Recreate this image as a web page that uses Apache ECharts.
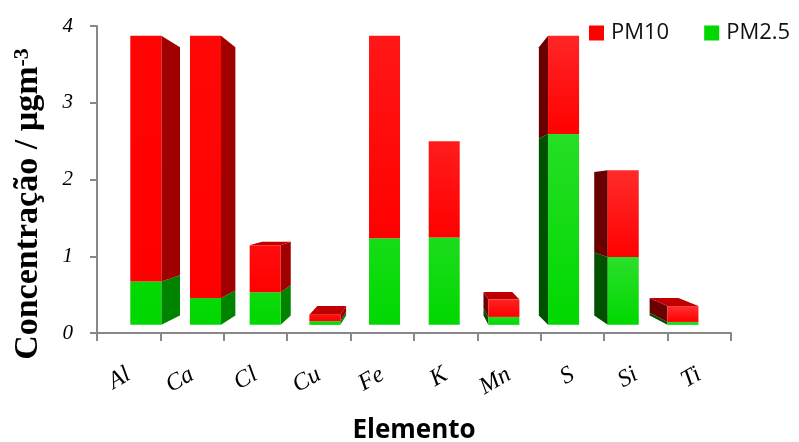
<!DOCTYPE html>
<html>
<head>
<meta charset="utf-8">
<script src="https://cdn.jsdelivr.net/npm/echarts@6/dist/echarts.min.js"></script>
<style>
  html, body { margin: 0; padding: 0; background: #ffffff; }
  #chart { width: 799px; height: 442px; }
</style>
</head>
<body>
<div id="chart"></div>
<script>
// Element categories
const elements = ['Al', 'Ca', 'Cl', 'Cu', 'Fe', 'K', 'Mn', 'S', 'Si', 'Ti'];
// Concentrations (µg m-3); PM10 values at the axis maximum are drawn at 4
const pm25 = [0.60, 0.37, 0.45, 0.05, 1.20, 1.21, 0.11, 2.64, 0.94, 0.04];
const pm10 = [4.00, 4.00, 1.10, 0.14, 4.00, 2.54, 0.35, 4.00, 2.14, 0.26];
// Y axis ticks
const yTicks = [0, 1, 2, 3, 4];

// Perspective settings for the pseudo-3D columns
const BAR_FRAC = 0.52;   // column width as share of a category band
const S_FRONT = 0.9413;  // front face scale toward the vanishing point
const S_BACK = 0.8735;   // back face scale toward the vanishing point
const VP_FX = 0.51;      // vanishing point, fraction of grid width
const VP_FY = 0.547;     // vanishing point, fraction of grid height
const MIN_FACE = 2;      // side faces narrower than this (px) are skipped

function mix(hex, t) {
  const n = parseInt(hex.slice(1), 16);
  const r = (n >> 16) & 255, g = (n >> 8) & 255, b = n & 255;
  const f = c => Math.round(c + (255 - c) * t);
  return 'rgb(' + f(r) + ',' + f(g) + ',' + f(b) + ')';
}

// Each item: [category index, segment start, segment end, stack top]
function columnRenderer(pal) {
  return function (params, api) {
    const cs = params.coordSys;
    const idx = api.value(0);
    const lo = api.value(1);
    const hi = api.value(2);
    const stackTop = api.value(3);
    if (!(hi > lo)) return;
    const band = api.size([1, 0])[0];
    const half = band * BAR_FRAC / 2;
    const cx = api.coord([idx, 0])[0];
    const yLo = api.coord([idx, lo])[1];
    const yHi = api.coord([idx, hi])[1];
    const vx = cs.x + cs.width * VP_FX;
    const vy = cs.y + cs.height * VP_FY;
    const P = (x, y, s) => [vx + s * (x - vx), vy + s * (y - vy)];
    const xl = cx - half, xr = cx + half;
    const fTL = P(xl, yHi, S_FRONT), fTR = P(xr, yHi, S_FRONT);
    const fBL = P(xl, yLo, S_FRONT), fBR = P(xr, yLo, S_FRONT);
    const bTL = P(xl, yHi, S_BACK), bTR = P(xr, yHi, S_BACK);
    const bBL = P(xl, yLo, S_BACK), bBR = P(xr, yLo, S_BACK);
    const children = [];
    if (bTR[0] > fTR[0] + MIN_FACE) {
      children.push({ type: 'polygon', shape: { points: [fTR, bTR, bBR, fBR] },
        style: { fill: pal.sideR } });
    } else if (bTL[0] < fTL[0] - MIN_FACE) {
      children.push({ type: 'polygon', shape: { points: [fTL, bTL, bBL, fBL] },
        style: { fill: pal.sideL } });
    }
    if (hi >= stackTop && bTL[1] < fTL[1] - 0.5) {
      children.push({ type: 'polygon', shape: { points: [fTL, fTR, bTR, bTL] },
        style: { fill: pal.top } });
    }
    const light = Math.max(0, Math.min(1, (cx - cs.x) / cs.width)) * 0.2;
    children.push({ type: 'polygon', shape: { points: [fTL, fTR, fBR, fBL] },
      style: { fill: { type: 'linear', x: 0, y: 0, x2: 0, y2: 1,
        colorStops: [{ offset: 0, color: mix(pal.front, light) },
                     { offset: 1, color: pal.front }] } } });
    return { type: 'group', children: children };
  };
}

const greenPal = { front: '#00d800', sideR: '#008400', sideL: '#005200', top: '#00a800' };
const redPal = { front: '#ff0000', sideR: '#a00000', sideL: '#6a0000', top: '#c00000' };

const greenData = elements.map((e, i) => [i, 0, pm25[i], Math.max(pm25[i], pm10[i])]);
const redData = elements.map((e, i) => [i, pm25[i], pm10[i], Math.max(pm25[i], pm10[i])]);

const chart = echarts.init(document.getElementById('chart'), null, { renderer: 'canvas' });
chart.setOption({
  animation: false,
  backgroundColor: '#ffffff',
  grid: { left: 97, right: 68, top: 26, bottom: 109, outerBoundsMode: 'none', containLabel: false },
  legend: {
    data: ['PM10', 'PM2.5'],
    left: 589, top: 22, padding: 0,
    icon: 'rect', itemWidth: 15, itemHeight: 15, itemGap: 35,
    textStyle: { fontFamily: 'Open Sans', fontSize: 22, color: '#111', padding: [0, 0, 0, 2] }
  },
  xAxis: {
    type: 'category',
    data: elements,
    name: 'Elemento',
    nameLocation: 'middle',
    nameGap: 85,
    nameTextStyle: { fontFamily: 'Open Sans', fontWeight: 'bold', fontSize: 26, color: '#000' },
    axisLine: { lineStyle: { color: '#888888', width: 2 } },
    axisTick: { show: true, length: 8, lineStyle: { color: '#888888', width: 2 } },
    axisLabel: { interval: 0, rotate: 30, margin: 40,
      fontFamily: 'Liberation Serif', fontStyle: 'italic', fontSize: 24, color: '#000' },
    splitLine: { show: false }
  },
  yAxis: {
    type: 'value',
    min: yTicks[0], max: yTicks[yTicks.length - 1], interval: 1,
    axisLine: { show: true, lineStyle: { color: '#888888', width: 2 } },
    axisTick: { show: true, length: 7, lineStyle: { color: '#888888', width: 2 } },
    axisLabel: { margin: 24, fontFamily: 'Liberation Serif', fontStyle: 'italic', fontSize: 21, color: '#000' },
    splitLine: { show: false }
  },
  graphic: [{
    type: 'text',
    x: 28, y: 204,
    rotation: Math.PI / 2,
    style: {
      text: '{a|Concentração / µgm}{s|-3}',
      align: 'center', verticalAlign: 'middle',
      rich: {
        a: { fontFamily: 'Liberation Serif', fontWeight: 'bold', fontSize: 34, fill: '#000' },
        s: { fontFamily: 'Liberation Serif', fontWeight: 'bold', fontSize: 22, fill: '#000', verticalAlign: 'top' }
      }
    }
  }],
  series: [
    { name: 'PM2.5', type: 'custom', renderItem: columnRenderer(greenPal),
      itemStyle: { color: '#00d800' }, encode: { x: 0, y: [1, 2] }, data: greenData },
    { name: 'PM10', type: 'custom', renderItem: columnRenderer(redPal),
      itemStyle: { color: '#ff0000' }, encode: { x: 0, y: [1, 2] }, data: redData }
  ]
});
</script>
</body>
</html>
